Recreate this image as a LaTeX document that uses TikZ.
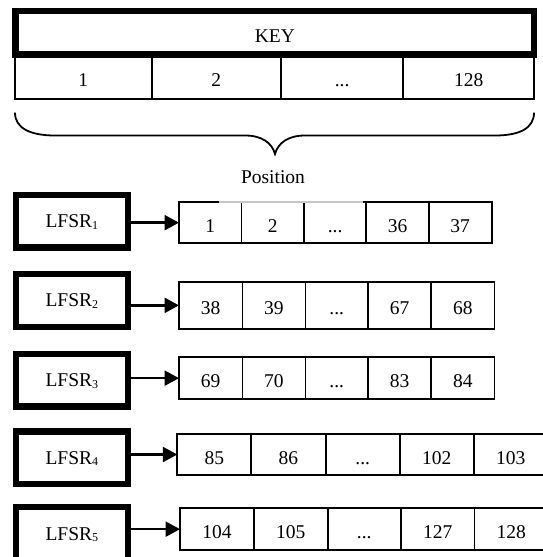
\documentclass[tikz,border=0pt]{standalone}
\usepackage{fontspec}
\setmainfont{Liberation Serif}
\usetikzlibrary{arrows.meta,calc}
\newcommand{\tdots}{...}
\newcommand{\cellrow}[4]{%
  \foreach \xa/\xb/\t [count=\i] in {#4}{%
    \node[cell, minimum width={\xb-\xa}, minimum height={#3-#2}] (#1c\i) at ({(\xa+\xb)/2},{(#2+#3)/2}) {\t};
  }}
\newcommand{\lfsrsub}[1]{\raisebox{-1.5pt}{\fontsize{12}{12}\selectfont #1}}
\begin{document}
\begin{tikzpicture}[x=1pt,y=-1pt,
  every node/.style={font=\fontsize{19.5}{22}\selectfont},
  cell/.style={draw, line width=1.8pt, inner sep=0pt, outer sep=0pt, text height=19.2pt, text depth=0pt},
  keybox/.style={draw, line width=6.3pt, inner sep=0pt, outer sep=0pt, text height=19.2pt, text depth=0pt},
  lfsr/.style={draw, line width=6.3pt, inner sep=0pt, outer sep=0pt, minimum width=112.1pt, minimum height=52.7pt, text height=15pt, text depth=2pt},
  arr/.style={line width=2.5pt, -{Triangle[length=14.5pt,width=15pt]}},
  brace/.style={line width=1.8pt}
]
\useasboundingbox (0,0) rectangle (543,557);

% number row under the key
\cellrow{k}{55}{99.3}{15/151.7/1, 151.7/281/2, 281/403.3/\tdots, 403.3/534/128}
% key box
\node[keybox, minimum width=518.7pt, minimum height=43.7pt] (key) at (274.85,32.65) {KEY};

% brace
\draw[brace] (15,112.7) .. controls (15,128) and (30,135.5) .. (55,135.5)
  -- (245,135.5) .. controls (262,135.5) and (272,143) .. (275,154)
  .. controls (278,143) and (288,135.5) .. (305,135.5)
  -- (495,135.5) .. controls (520,135.5) and (534,128) .. (534,112.7);
\node[anchor=base] (pos) at (273,183) {Position};

% LFSR boxes
\node[lfsr] (L1) at (71.85,221.2) {LFSR\lfsrsub{1}};
\node[lfsr] (L2) at (71.85,300.35) {LFSR\lfsrsub{2}};
\node[lfsr] (L3) at (71.85,380.15) {LFSR\lfsrsub{3}};
\node[lfsr] (L4) at (71.85,457.8) {LFSR\lfsrsub{4}};
\node[lfsr] (L5) at (71.85,533.5) {LFSR\lfsrsub{5}};

% rows of positions
\cellrow{r1}{202}{243.3}{179/241.5/1, 241.5/304/2, 304/366.3/\tdots, 366.3/428.7/36, 428.7/491.7/37}
\cellrow{r2}{281.7}{329}{179/242.4/38, 242.4/305.4/39, 305.4/368/\tdots, 368/431/67, 431/494.5/68}
\cellrow{r3}{357.3}{399}{179/242.4/69, 242.4/305.4/70, 305.4/368/\tdots, 368/431/83, 431/494.5/84}
\cellrow{r4}{434}{475}{177.3/251.3/85, 251.3/325.6/86, 325.6/400/\tdots, 400/473.7/102, 473.7/547.7/103}
\cellrow{r5}{508.3}{550}{180/253.8/104, 253.8/327.6/105, 327.6/401/\tdots, 401/474.5/127, 474.5/548/128}

% faint part of the first row's top edge
\coordinate (g1) at (219.3,202);
\coordinate (g2) at (363.3,202);
\draw[white, line width=2.2pt] (g1) -- (g2);
\draw[gray!45, line width=1.1pt] (g1) -- (g2);

% arrows
\foreach \k in {1,...,5}{
  \draw[arr] (r\k c1.west -| L\k.east) -- (r\k c1.west);
}
\end{tikzpicture}
\end{document}
